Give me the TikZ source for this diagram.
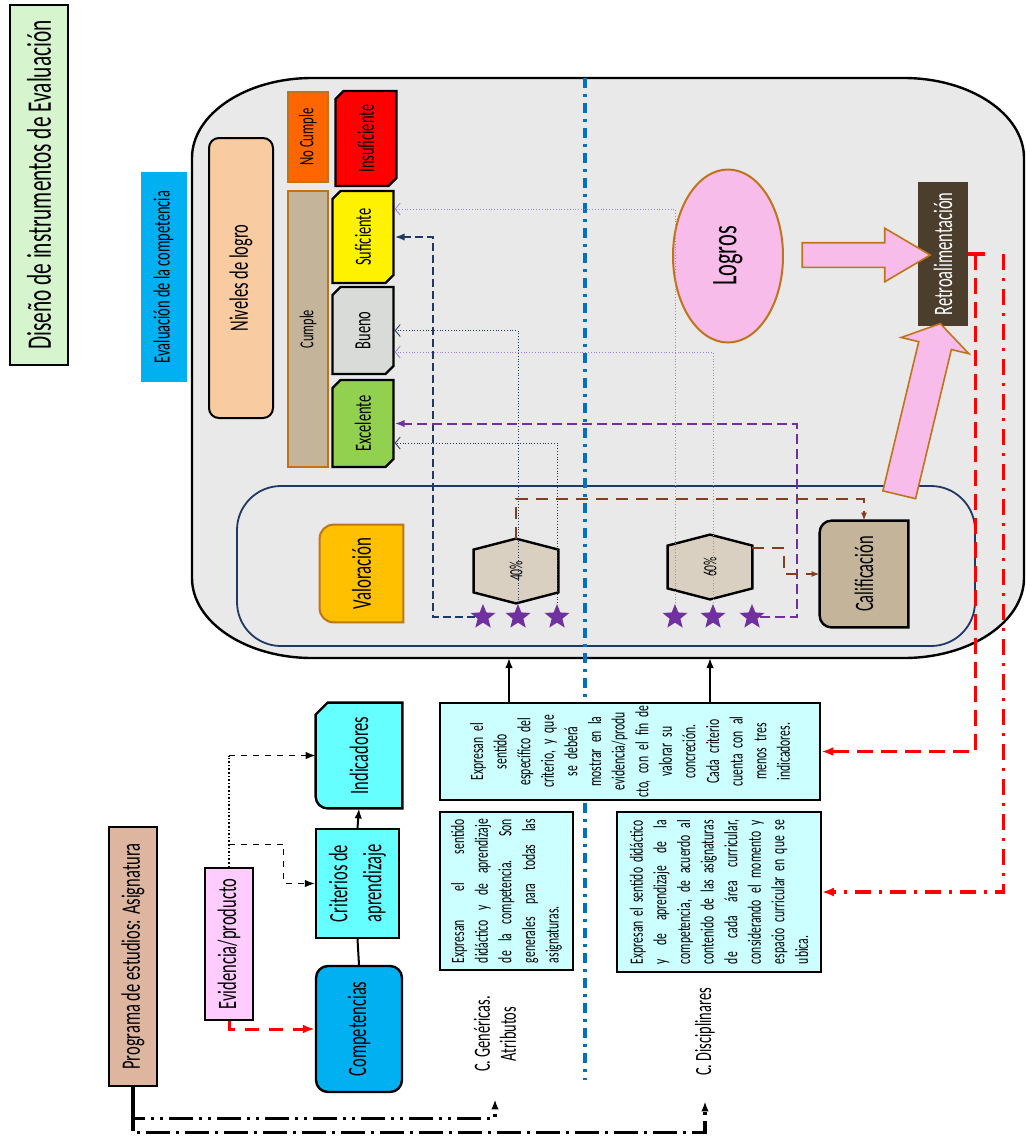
\documentclass[tikz,border=0pt]{standalone}
\usepackage{fontspec}
\setmainfont{Carlito}[FakeStretch=0.62]
\usetikzlibrary{shapes.geometric,shapes.misc,shapes.arrows,arrows.meta,calc}
\RequirePackage{color}
\definecolor{titlegreen}{RGB}{214,245,206}
\definecolor{skyblue}{RGB}{0,176,240}
\definecolor{paper}{RGB}{233,233,233}
\definecolor{navyline}{RGB}{31,56,100}
\definecolor{peach}{RGB}{248,203,160}
\definecolor{orangefill}{RGB}{255,102,0}
\definecolor{tanfill}{RGB}{196,180,154}
\definecolor{ochre}{RGB}{192,116,26}
\definecolor{greyfill}{RGB}{217,219,217}
\definecolor{greenfill}{RGB}{146,208,80}
\definecolor{pinkfill}{RGB}{248,188,234}
\definecolor{darkbrown}{RGB}{75,62,44}
\definecolor{gold}{RGB}{255,192,0}
\definecolor{hexfill}{RGB}{217,208,193}
\definecolor{purple}{RGB}{112,48,160}
\definecolor{lavender}{RGB}{160,130,220}
\definecolor{brownline}{RGB}{128,64,32}
\definecolor{divblue}{RGB}{0,112,192}
\definecolor{cyanfill}{RGB}{102,255,255}
\definecolor{paleblue}{RGB}{204,255,255}
\definecolor{lightpink}{RGB}{255,204,255}
\definecolor{salmon}{RGB}{222,182,160}
\pgfdeclarelayer{bg}
\pgfsetlayers{bg,main}

\begin{document}
\begin{tikzpicture}[x=0.5pt,y=-0.5pt,
	lbl/.style={rotate=90,inner sep=0pt,align=center,font=\fontsize{13.3}{15}\selectfont},
	levelbox/.style={lbl,draw,line width=1.2pt,chamfered rectangle,chamfered rectangle corners={north east,south west},chamfered rectangle xsep=2pt,chamfered rectangle ysep=2pt,minimum height=30.5pt,font=\fontsize{11.6}{13}\selectfont},
	textbox/.style={rotate=90,draw,fill=paleblue,inner sep=0pt,font=\fontsize{9.4}{11.8}\selectfont},
	ministar/.style={star,star points=5,star point ratio=2.3,fill=purple,minimum size=13pt,inner sep=0pt},
	pinkarrow/.style={single arrow,draw=ochre,fill=pinkfill,line width=0.8pt,inner xsep=0pt},
	navydash/.style={navyline,line width=1.2pt,dash pattern=on 4pt off 2pt},
	purpdash/.style={purple,line width=1pt,dash pattern=on 5pt off 2.5pt},
	navydot/.style={navyline,line width=0.4pt,densely dotted},
	lavdot/.style={lavender,line width=0.4pt,densely dotted},
	browndash/.style={brownline,line width=1pt,dash pattern=on 6pt off 4pt},
	reddash/.style={red,line width=1.6pt,dash pattern=on 8pt off 4pt},
	reddashdot/.style={red,line width=1.6pt,dash pattern=on 8pt off 4pt on 1.5pt off 4pt},
	openhead/.style={-{Straight Barb[length=2.5pt,width=6pt]}}]

	\useasboundingbox (0,0) rectangle (1026,1136);

	% Background panels
	\begin{pgfonlayer}{bg}
		\draw [fill=paper,line width=1.2pt] (192,158) .. controls (192,114) and (246,78) .. (312,78) -- (904,78) .. controls (970,78) and (1024,114) .. (1024,158) -- (1024,578) .. controls (1024,622) and (970,658) .. (904,658) -- (312,658) .. controls (246,658) and (192,622) .. (192,578) -- cycle;
		\draw [navyline,line width=0.9pt,rounded corners=22pt] (237,486) rectangle (975,646);
		\draw [divblue,line width=2pt,dash pattern=on 5pt off 3pt on 1.5pt off 3pt] (585,78) -- (585,1080);
	\end{pgfonlayer}
	\coordinate (bigbottom) at (585,658);

	% Headers
	\node [lbl,draw,fill=titlegreen,line width=0.8pt,minimum width=180pt,minimum height=29pt,font=\fontsize{17.2}{19}\selectfont] (titulo) at (39,185) {Diseño de instrumentos de Evaluación};
	\node [lbl,fill=skyblue,minimum width=105pt,minimum height=23pt,font=\fontsize{11.6}{13}\selectfont] (evalcomp) at (163.5,277) {Evaluación de la competencia};

	% Levels
	\node [lbl,draw,fill=peach,rounded corners=5pt,line width=1pt,minimum width=140pt,minimum height=32pt] (niveles) at (241,278) {Niveles de logro};
	\node [lbl,draw=ochre,fill=orangefill,line width=1pt,minimum width=45pt,minimum height=20pt,font=\fontsize{10.3}{12}\selectfont] (nocumple) at (308,137) {No Cumple};
	\node [lbl,draw=ochre,fill=tanfill,line width=1pt,minimum width=138pt,minimum height=20pt,font=\fontsize{9.9}{11}\selectfont] (cumple) at (308,329) {Cumple};
	\node [levelbox,fill=red,minimum width=47.5pt] (insuf) at (366,138.5) {Insuficiente};
	\node [levelbox,fill=yellow,minimum width=46pt] (suf) at (363,237) {Suficiente};
	\node [levelbox,fill=greyfill,minimum width=43.5pt] (bueno) at (363,330.5) {Bueno};
	\node [levelbox,fill=greenfill,minimum width=43.5pt] (excel) at (363,423.5) {Excelente};

	% Achievements and feedback
	\node [lbl,ellipse,draw=ochre,fill=pinkfill,line width=1pt,minimum width=86.5pt,minimum height=55pt,font=\fontsize{18}{20}\selectfont] (logros) at (728,256) {Logros};
	\node [lbl,fill=darkbrown,text=white,minimum width=72pt,minimum height=25pt] (retro) at (943,254) {Retroalimentación};
	\node [pinkarrow,inner ysep=5.75pt,single arrow head extend=7.25pt,single arrow tip angle=61,minimum height=64pt] (logarr) at ($(logros.south)!0.5!(retro.north)+(5,0)$) {};
	\node [pinkarrow,rotate=76.5,inner ysep=8pt,single arrow head extend=9pt,single arrow tip angle=114,minimum height=88pt] (calarr) at (918.5,414.5) {};

	% Grading
	\node [lbl,minimum width=48.5pt,minimum height=41.5pt,font=\fontsize{13.6}{15}\selectfont] (valor) at (361.5,573.5) {Valoración};
	\node [lbl,minimum width=53pt,minimum height=44pt] (calif) at (864,574) {Calificación};
	\node [minimum width=42pt,minimum height=32pt,inner sep=0pt,font=\fontsize{9.3}{10}\selectfont] (h40) at (516,571) {\rotatebox{90}{40\%}};
	\node [minimum width=42pt,minimum height=32pt,inner sep=0pt,font=\fontsize{9.3}{10}\selectfont] (h60) at (710,567) {\rotatebox{90}{60\%}};
	\foreach \x/\n in {483/s1,518/s2,557/s3,675/s4,713/s5,752/s6}
		\node [ministar] (\n) at (\x,617) {};

	% Program side
	\node [lbl,draw,fill=salmon,line width=0.8pt,minimum width=129.5pt,minimum height=24pt] (prog) at (133,956.5) {Programa de estudios: Asignatura};
	\node [lbl,draw,fill=lightpink,line width=0.8pt,minimum width=76pt,minimum height=24pt] (evid) at (229,944) {Evidencia/producto};
	\node [lbl,draw,fill=cyanfill,line width=1.2pt,minimum width=54.5pt,minimum height=41.5pt,font=\fontsize{13.3}{17}\selectfont] (criterios) at (357.5,883.5) {Criterios de\\aprendizaje};
	\node [lbl,draw,fill=skyblue,rounded corners=6pt,line width=1.2pt,minimum width=63pt,minimum height=43pt] (compet) at (359,1029) {Competencias};
	\node [lbl,minimum width=52.5pt,minimum height=43pt] (indic) at (359,755.5) {Indicadores};

	% Descriptions
	\node [textbox,line width=1.4pt,minimum width=48.5pt,minimum height=190pt,text width=48pt,align=center] (critbox) at (630,751.5) {Expresan el\\sentido\\específico del\\criterio, y que\\se deberá\\mostrar en la\\evidencia/produ\\cto, con el fin de\\valorar su\\concreción.\\Cada criterio\\cuenta con al\\menos tres\\indicadores.};
	\node [textbox,line width=0.8pt,minimum width=79pt,minimum height=66.5pt,text width=72pt,align=justify] (genbox) at (506.5,891) {Expresan el sentido\linebreak didáctico y de aprendizaje\linebreak de la competencia. Son\linebreak generales para todas las\linebreak asignaturas.};
	\node [textbox,line width=0.8pt,minimum width=80pt,minimum height=102pt,text width=72pt,align=justify] (disbox) at (719,892) {Expresan el sentido didáctico\linebreak y de aprendizaje de la\linebreak competencia, de acuerdo al\linebreak contenido de las asignaturas\linebreak de cada área curricular,\linebreak considerando el momento y\linebreak espacio curricular en que se\linebreak ubica.};
	\node [lbl,font=\fontsize{11.6}{13}\selectfont] (genlab) at (495,1034) {C. Genéricas.\\Atributos};
	\node [lbl,font=\fontsize{11.6}{13}\selectfont] (dislab) at (705,1032) {C. Disciplinares};

	% Shapes with mixed corners
	\begin{pgfonlayer}{bg}
		\draw [fill=gold,draw=ochre,line width=1pt] (valor.east) -- (valor.south east) -- (valor.south west) -- (valor.west) [rounded corners=7pt] -- (valor.north west) -- (valor.north east) -- cycle;
		\draw [fill=tanfill,line width=1.2pt] (calif.east) -- (calif.south east) -- (calif.south west) -- (calif.west) [rounded corners=6pt] -- (calif.north west) -- (calif.north east) -- cycle;
		\draw [fill=cyanfill,line width=1.2pt] (indic.east) -- (indic.south east) -- (indic.south west) -- (indic.west) [rounded corners=6pt] -- (indic.north west) -- ($(indic.north west)!0.5!(indic.north east)$) [sharp corners] -- ($(indic.north east)+(0,12)$) -- ($(indic.north east)+(12,0)$) -- cycle;
		\foreach \h in {h40,h60}
			\draw [fill=hexfill,line width=1.2pt] (\h.north) -- ($(\h.north east)+(0,11)$) -- ($(\h.south east)+(0,-11)$) -- (\h.south) -- ($(\h.south west)+(0,-11)$) -- ($(\h.north west)+(0,11)$) -- cycle;
	\end{pgfonlayer}

	% Stars to levels
	\draw [navydash,-{Latex[length=5pt]}] (s1.west) -| ($(suf.south)+(38,0)$) -- (suf.south);
	\draw [purpdash,-{Latex[length=5pt]}] (s6.east) -| ($(excel.south)+(402,0)$) -- (excel.south);
	\draw [navydot,openhead] (s2.north) |- (bueno.south);
	\draw [navydot,openhead] (s3.north) |- ($(excel.south)+(0,19.5)$);
	\draw [lavdot,openhead] (s4.north) |- ($(suf.south)+(0,-28)$);
	\draw [lavdot,openhead] (s5.north) |- ($(bueno.south)+(0,21.5)$);

	% Percentages to grade
	\draw [browndash,-{Latex[length=4pt]}] (h40.north) -- ++(0,-40) -| (calif.east);
	\draw [browndash,-{Latex[length=4pt]}] ([yshift=9.5pt]h60.east) -- ++(32,0) |- (calif.north);

	% Feedback lines
	\draw [red,line width=1.6pt] (retro.south) -- ++(17,0);
	\draw [reddash,-{Latex[length=6pt]}] ($(retro.south)+(7,0)$) |- (critbox.south);
	\draw [reddashdot,-{Latex[length=6pt]}] ($(retro.south)+(35,0)$) |- (disbox.south);
	\draw [line width=0.8pt,-{Latex[length=5pt]}] (critbox.east -| 509,0) -- (bigbottom -| 509,0);
	\draw [line width=0.8pt,-{Latex[length=5pt]}] (critbox.east -| 710,0) -- (bigbottom -| 710,0);

	% Program side links
	\draw [line width=1pt,-{Latex[length=5pt]}] (criterios.east) -- (indic.west);
	\draw [line width=1pt] (compet.east) -- (criterios.west);
	\draw [densely dotted,line width=0.8pt] (evid.east) -- (evid.east |- indic.north);
	\draw [dashed,line width=0.6pt,-{Latex[length=5pt]}] (evid.east |- indic.north) -- (indic.north);
	\draw [dashed,line width=0.6pt,-{Latex[length=5pt]}] ($(evid.east)+(0,-23)$) -| ($(criterios.north)+(-31,0)$) -- (criterios.north);
	\draw [red,line width=1.5pt,dash pattern=on 7pt off 5pt,-{Latex[length=6pt]}] (evid.west) |- (compet.north);

	% Program to competence types
	\coordinate (psplit) at ($(prog.west)+(0,20)$);
	\draw [line width=1.6pt] (prog.west) -- (psplit);
	\draw [line width=1.6pt,dash pattern=on 12pt off 3pt on 1.5pt off 3pt on 1.5pt off 3pt,-{Latex[length=5pt]}] (psplit) |- ($(genlab.west)+(0,46)$) -- ($(genlab.west)+(0,27)$);
	\draw [line width=1.6pt,dash pattern=on 12pt off 3pt on 1.5pt off 3pt,-{Latex[length=5pt]}] (psplit) |- ($(dislab.west)+(0,56)$) -- ($(dislab.west)+(0,25)$);
\end{tikzpicture}
\end{document}
